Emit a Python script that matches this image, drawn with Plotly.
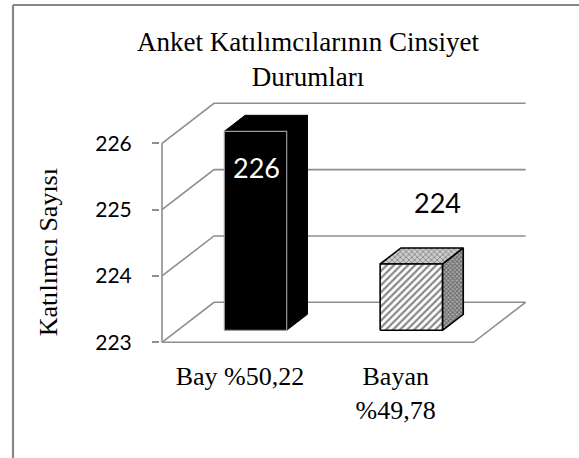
import plotly.graph_objects as go

# ---------------- data ----------------
title_text = "Anket Katılımcılarının Cinsiyet<br>Durumları"
y_title = "Katılımcı Sayısı"
categories = ["Bay %50,22", "Bayan<br>%49,78"]
values = [226, 224]
value_labels = ["226", "224"]
y_ticks = [223, 224, 225, 226]

# ---------------- layout / style constants ----------------
W, H = 579, 458
X0_PX, KX = 162.0, 155.8      # pixel of x=0 and pixels per x unit
Y0_PX, KY = 342.3, 66.33      # pixel of y=223 and pixels per y unit
PLOT_L, PLOT_R, PLOT_T, PLOT_B = 160, 532, 96, 350
DEPTH_X = 52 / KX             # oblique depth offset (x units)
DEPTH_Y = 40 / KY             # oblique depth offset (y units)
BAR_HALF = 0.2
BAR_F0, BAR_F1 = 0.3, 0.7
GRID = "#8e8e8e"
SERIF = "Liberation Serif, Times New Roman, serif"
SANS = "Lato, Open Sans, sans-serif"
LABEL_OFF = [(0.105, -0.37), (0.268, 1.115)]
LABEL_COL = ["white", "black"]

n = len(categories)
y_base, y_top = y_ticks[0], y_ticks[-1]


def P(x, y, f):
    return x + f * DEPTH_X, y + f * DEPTH_Y


def path(points):
    xs = [p[0] for p in points]
    ys = [p[1] for p in points]
    return xs, ys


fig = go.Figure()

# side-wall and back-wall gridlines
for v in y_ticks:
    xs, ys = path([P(0, v, 0), P(0, v, 1), P(n, v, 1)])
    fig.add_trace(go.Scatter(x=xs, y=ys, mode="lines",
                             line=dict(color=GRID, width=1.6),
                             hoverinfo="skip", showlegend=False))
# floor front and right edges
xs, ys = path([P(0, y_base, 0), P(n, y_base, 0), P(n, y_base, 1)])
fig.add_trace(go.Scatter(x=xs, y=ys, mode="lines", line=dict(color=GRID, width=1.6),
                         hoverinfo="skip", showlegend=False))
# front vertical axis line
xs, ys = path([P(0, y_base, 0), P(0, y_top, 0)])
fig.add_trace(go.Scatter(x=xs, y=ys, mode="lines", line=dict(color=GRID, width=1.6),
                         hoverinfo="skip", showlegend=False))

face_styles = [
    dict(front=dict(fillcolor="black", line=dict(color="#9a9a9a", width=1.2)),
         side=dict(fillcolor="black", line=dict(color="black", width=1)),
         top=dict(fillcolor="black", line=dict(color="black", width=1))),
    dict(front=dict(fillcolor="white", line=dict(color="black", width=1.6),
                    fillpattern=dict(shape="/", fgcolor="#111111", bgcolor="white",
                                     size=5, solidity=0.45)),
         side=dict(fillcolor="white", line=dict(color="black", width=1.6),
                   fillpattern=dict(shape="x", fgcolor="#222222", bgcolor="#aaaaaa",
                                    size=3, solidity=0.5)),
         top=dict(fillcolor="white", line=dict(color="black", width=1.6),
                  fillpattern=dict(shape="x", fgcolor="#444444", bgcolor="#cccccc",
                                   size=4, solidity=0.4))),
]

for i, v in enumerate(values):
    c = i + 0.5
    l, r = c - BAR_HALF, c + BAR_HALF
    faces = {
        "side": [P(r, y_base, BAR_F0), P(r, y_base, BAR_F1), P(r, v, BAR_F1), P(r, v, BAR_F0), P(r, y_base, BAR_F0)],
        "top": [P(l, v, BAR_F0), P(r, v, BAR_F0), P(r, v, BAR_F1), P(l, v, BAR_F1), P(l, v, BAR_F0)],
        "front": [P(l, y_base, BAR_F0), P(r, y_base, BAR_F0), P(r, v, BAR_F0), P(l, v, BAR_F0), P(l, y_base, BAR_F0)],
    }
    for name in ["side", "top", "front"]:
        xs, ys = path(faces[name])
        st = face_styles[i][name]
        fig.add_trace(go.Scatter(x=xs, y=ys, mode="lines", fill="toself",
                                 hoverinfo="skip", showlegend=False, **st))

# value labels
for i, (v, lab) in enumerate(zip(values, value_labels)):
    dx, dy = LABEL_OFF[i]
    fig.add_annotation(x=i + 0.5 + dx, y=v + dy, xref="x", yref="y", text=lab,
                       showarrow=False, xanchor="center", yanchor="middle",
                       font=dict(family=SANS, size=27, color=LABEL_COL[i]))

pw, ph = PLOT_R - PLOT_L, PLOT_B - PLOT_T
fig.add_annotation(text=y_title, xref="paper", yref="paper",
                   x=(48.3 - PLOT_L) / pw, y=(PLOT_B - 252) / ph,
                   xanchor="center", yanchor="middle",
                   textangle=-90, showarrow=False,
                   font=dict(family=SERIF, size=26, color="black"))

# chart frame (top and left edges)
fx = (13 - PLOT_L) / pw
fy_top = (PLOT_B - 5) / ph
fy_bot = (PLOT_B - 470) / ph
fx_right = (590 - PLOT_L) / pw
fig.add_shape(type="line", xref="paper", yref="paper", x0=fx, x1=fx_right, y0=fy_top, y1=fy_top,
              line=dict(color="#878787", width=2.2))
fig.add_shape(type="line", xref="paper", yref="paper", x0=fx, x1=fx, y0=fy_top, y1=fy_bot,
              line=dict(color="#878787", width=2.2))

xr = [(PLOT_L - X0_PX) / KX, (PLOT_R - X0_PX) / KX]
yr = [y_base - (PLOT_B - Y0_PX) / KY, y_base + (Y0_PX - PLOT_T) / KY]

fig.update_layout(
    width=W, height=H, autosize=False,
    margin=dict(l=PLOT_L, r=W - PLOT_R, t=PLOT_T, b=H - PLOT_B, pad=0, autoexpand=False),
    paper_bgcolor="white", plot_bgcolor="white",
    title=dict(text=title_text, x=308 / W, xanchor="center", xref="container",
               y=1 - 51 / H, yanchor="top", yref="container", automargin=False,
               font=dict(family=SERIF, size=27, color="black")),
    xaxis=dict(range=xr, showgrid=False, zeroline=False, showline=False, automargin=False,
               tickmode="array", tickvals=[i + 0.5 for i in range(n)], ticktext=categories,
               ticks="", tickfont=dict(family=SERIF, size=26, color="black"),
               ticklabelstandoff=8, fixedrange=True),
    yaxis=dict(range=yr, showgrid=False, zeroline=False, showline=False, automargin=False,
               tickmode="array", tickvals=y_ticks, ticktext=[str(t) for t in y_ticks],
               ticks="outside", ticklen=7, tickwidth=1.6, tickcolor=GRID,
               tickfont=dict(family=SANS, size=21, color="black"),
               ticklabelstandoff=16, fixedrange=True),
    showlegend=False,
)

fig.write_html("out.html", config={"displayModeBar": False},
               post_script="document.body.style.margin='0';document.body.style.overflow='hidden';")
